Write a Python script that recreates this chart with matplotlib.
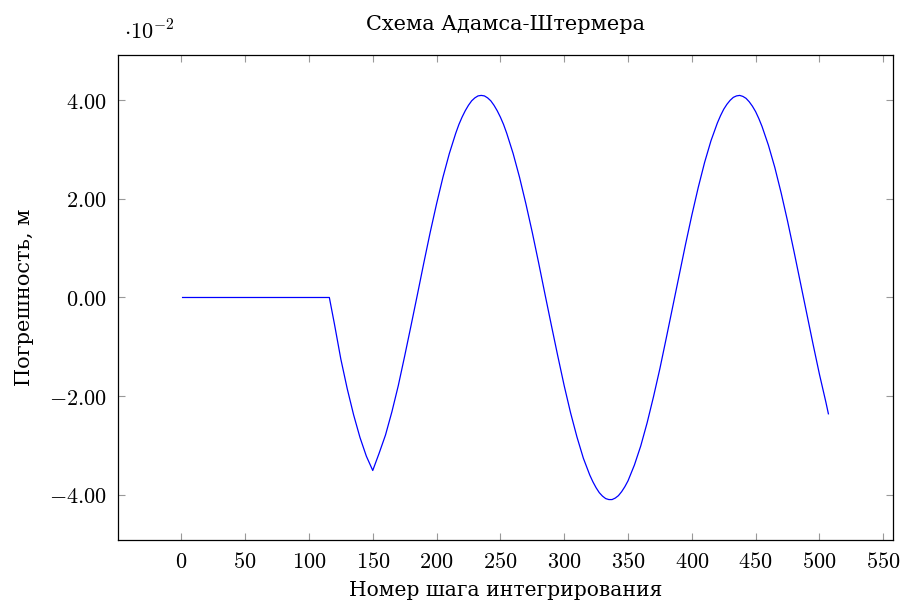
import matplotlib
matplotlib.use('Agg')
import matplotlib.pyplot as plt
from matplotlib.ticker import FuncFormatter, MultipleLocator

plt.rcParams['mathtext.fontset'] = 'cm'
plt.rcParams['font.family'] = ['DejaVu Serif']

# integration step number and error, m
steps = [1, 20, 40, 60, 80, 100, 116, 120, 125, 130, 135, 140, 145, 150,
         155, 160, 165, 170, 175, 180, 185, 190, 195, 200, 205, 210, 215,
         217.5, 220, 222.5, 225, 227.5, 230, 232.5, 235, 237.5, 240, 242.5,
         245, 247.5, 250, 252.5, 255, 260, 265, 270, 275, 280,
         285, 290, 295, 300, 305, 310, 315, 320, 322.5, 325, 327.5, 330,
         332.5, 335, 337.5, 340, 342.5, 345, 347.5,
         350, 355, 360, 365, 370, 375, 380, 385, 390, 395, 400, 405, 410,
         415, 420, 422.5, 425, 427.5, 430, 432.5, 435, 437.5, 440, 442.5,
         445, 447.5, 450, 452.5, 455, 460, 465, 470, 475,
         480, 485, 490, 495, 500, 505, 507]
error = [0.0, 0.0, 0.0, 0.0, 0.0, 0.0, 0.0, -0.0054, -0.0125, -0.0185,
         -0.0238, -0.0284, -0.0322, -0.0351,
         -0.0316, -0.0279, -0.0232, -0.0179, -0.0119, -0.0057, 0.0006,
         0.0070, 0.0132, 0.0190, 0.0244, 0.0292, 0.0333,
         0.0351, 0.0366, 0.0379, 0.0390, 0.0399, 0.0405, 0.0409, 0.0410,
         0.0409, 0.0405, 0.0399, 0.0390, 0.0379, 0.0366, 0.0351, 0.0333,
         0.0292, 0.0244, 0.0190, 0.0132, 0.0070,
         0.0006, -0.0057, -0.0119, -0.0179, -0.0234, -0.0283, -0.0326,
         -0.0360, -0.0374, -0.0386, -0.0396, -0.0403, -0.0408, -0.0410,
         -0.0410, -0.0407, -0.0402, -0.0394, -0.0384,
         -0.0372, -0.0340, -0.0301, -0.0254, -0.0201, -0.0144,
         -0.0082, -0.0019, 0.0044, 0.0107, 0.0167, 0.0223, 0.0274, 0.0318,
         0.0354, 0.0369, 0.0382, 0.0392, 0.0400, 0.0406, 0.0409, 0.0410,
         0.0408, 0.0404, 0.0397, 0.0388, 0.0377, 0.0363, 0.0347,
         0.0309, 0.0264, 0.0212, 0.0155, 0.0094, 0.0031, -0.0032, -0.0095,
         -0.0156, -0.0212, -0.0236]

fig = plt.figure(figsize=(9.02, 6.03), dpi=100)
ax = fig.add_axes([0.1308, 0.1045, 0.8592, 0.8043])
ax.plot(steps, error, color='blue', linewidth=0.9)

ax.set_xlim(-49.6, 557.6)
ax.set_ylim(-0.0492, 0.0492)
ax.xaxis.set_major_locator(MultipleLocator(50))
ax.yaxis.set_major_locator(MultipleLocator(0.02))
ax.xaxis.set_major_formatter(FuncFormatter(lambda v, p: r'$%d$' % round(v)))
ax.yaxis.set_major_formatter(FuncFormatter(lambda v, p: r'$%.2f$' % (v * 100 + 0.0)))
ax.tick_params(direction='in', length=5, width=0.8, color='#999999',
               top=True, right=True, labelsize=16, pad=8)
for s in ax.spines.values():
    s.set_linewidth(0.9)

ax.set_title('Схема Адамса-Штермера', fontsize=15, pad=18)
ax.set_xlabel('Номер шага интегрирования', fontsize=14.6, labelpad=6)
ax.set_ylabel('Погрешность, м', fontsize=15, labelpad=11)
fig.text(0.138, 0.935, r'$\cdot 10^{-2}$', fontsize=16)

fig.savefig('out.png', dpi=100)
